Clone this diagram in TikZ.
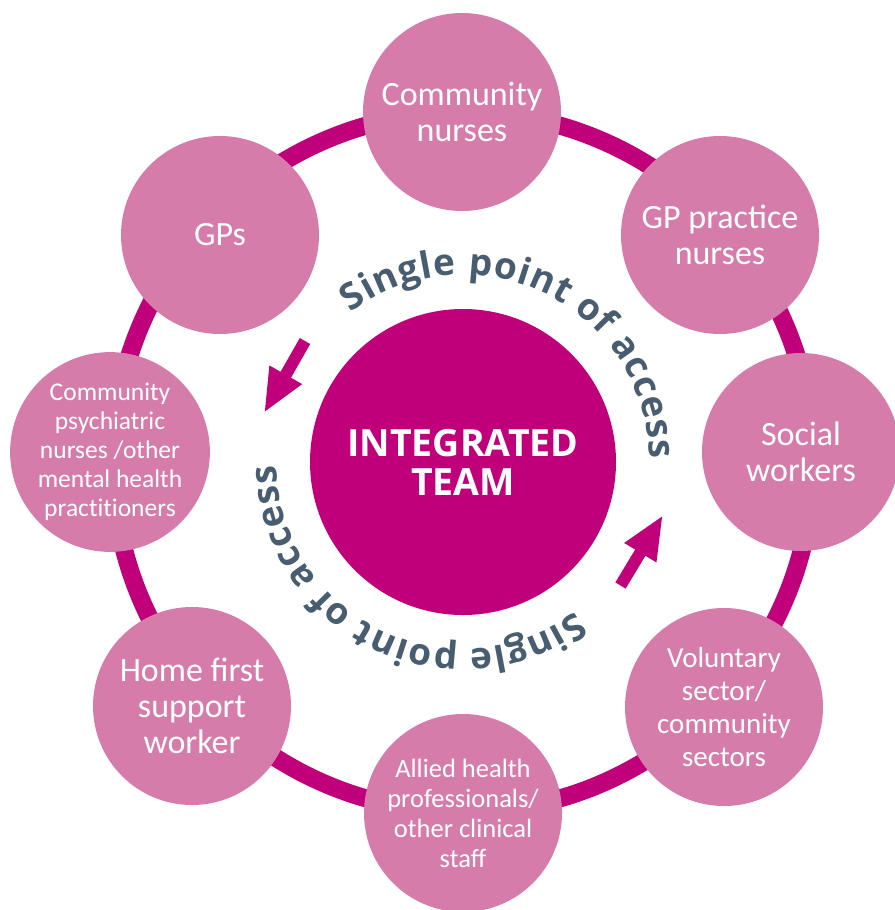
\documentclass[tikz,border=0pt]{standalone}
\usepackage{fontspec}
\setmainfont{Carlito}
\newfontfamily\osans{Open Sans}
\usetikzlibrary{arrows.meta,decorations.text,calc}
\definecolor{ringc}{RGB}{192,0,122}
\definecolor{pinkc}{RGB}{213,124,170}
\definecolor{arcgrey}{RGB}{72,93,112}
\newcommand\arcfmt{\osans\bfseries\fontsize{37}{37}\selectfont}
\tikzset{
  ringline/.style={draw=ringc, line width=18pt},
  member/.style={circle, fill=pinkc, minimum size=198pt, inner sep=0pt, text=white, align=center},
  bigtxt/.style={font=\fontsize{34}{36}\selectfont},
  midtxt/.style={font=\fontsize{29}{33}\selectfont},
  smalltxt/.style={font=\fontsize{26.5}{30}\selectfont},
  tinytxt/.style={font=\addfontfeature{Ligatures=NoCommon}\fontsize{25.5}{29}\selectfont},
  team/.style={circle, fill=ringc, minimum size=306pt, inner sep=0pt, text=white, align=center,
    font=\osans\bfseries\fontsize{37.5}{39}\selectfont},
  flowarrow/.style={draw=ringc, line width=12pt, -{Triangle[length=44pt, width=34pt]}},
  arctext/.style={decorate, decoration={text along path, text={|\arcfmt|Single point of access},
    text color=arcgrey, text align={fit to path}}}
}
\begin{document}
\begin{tikzpicture}[x=1pt,y=1pt]
\useasboundingbox (0,0) rectangle (894,-910);
\coordinate (C) at (463,-462);
\draw[ringline] (C) circle[radius=350];

\node[member, bigtxt] (cn) at (462,-112) {Community\\nurses};
\node[member, bigtxt] (gpn) at (720,-235) {GP practice\\nurses};
\node[member, bigtxt] (sw) at (801,-452) {Social\\workers};
\node[member, midtxt] (vs) at (724,-707) {Voluntary\\sector/\\community\\sectors};
\node[member, smalltxt] (ah) at (463,-813) {Allied health\\professionals/\\other clinical\\staff};
\node[member, bigtxt] (hf) at (192,-706) {Home first\\support\\worker};
\node[member, tinytxt] (cp) at (110,-452) {Community\\psychiatric\\nurses /other\\mental health\\practitioners};
\node[member, bigtxt] (gp) at (220,-235) {GPs};

\node[team] (tm) at (C) {INTEGRATED\\TEAM};

\coordinate (a1s) at (305,-341);
\coordinate (a1e) at (264,-413);
\coordinate (a2s) at (620.5,-585.5);
\coordinate (a2e) at (663,-515);
\draw[flowarrow] (a1s) -- (a1e);
\draw[flowarrow] (a2s) -- (a2e);

\coordinate (u0) at ($(C)+(127:187)$);
\coordinate (l0) at ($(C)+(-53:187)$);
\path[arctext] (u0) arc[start angle=127, end angle=1, radius=187];
\path[arctext] (l0) arc[start angle=-53, end angle=-179, radius=187];
\end{tikzpicture}
\end{document}
